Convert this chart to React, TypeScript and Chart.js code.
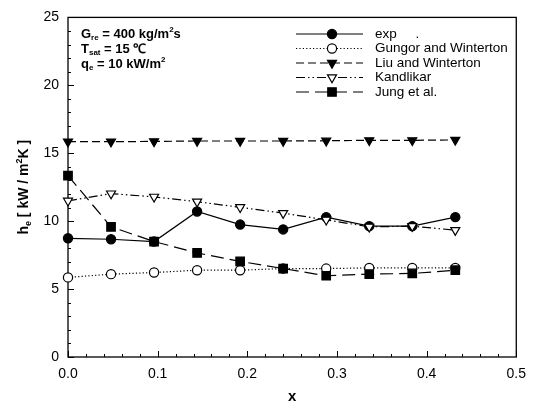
import React, { useEffect, useRef } from 'react';
import { Chart, registerables } from 'chart.js';
import { drawPoint } from 'chart.js/helpers';

Chart.register(...registerables);

const xValues = [0, 0.048, 0.096, 0.144, 0.192, 0.24, 0.288, 0.336, 0.384, 0.432];
const expValues = [8.74, 8.67, 8.5, 10.71, 9.75, 9.39, 10.3, 9.63, 9.63, 10.3];
const gungorValues = [5.86, 6.1, 6.22, 6.39, 6.39, 6.51, 6.51, 6.56, 6.56, 6.56];
const liuValues = [15.85, 15.85, 15.87, 15.9, 15.9, 15.9, 15.92, 15.95, 15.95, 15.98];
const kandlikarValues = [11.5, 12.03, 11.79, 11.43, 11.02, 10.59, 10.1, 9.58, 9.63, 9.34];
const jungValues = [13.35, 9.58, 8.5, 7.66, 7.04, 6.51, 5.98, 6.1, 6.15, 6.39];
const seriesLabels = ['exp     .', 'Gungor and Winterton', 'Liu and Winterton', 'Kandlikar', 'Jung et al.'];
const xTickValues = [0, 0.1, 0.2, 0.3, 0.4, 0.5];
const yTickValues = [0, 5, 10, 15, 20, 25];

const FONT = '"Liberation Sans", Arial, Helvetica, sans-serif';

const styles = [
  { dash: [], pointStyle: 'circle', rotation: 0, radius: 4.6, fill: '#000' },
  { dash: [1.2, 2.2], pointStyle: 'circle', rotation: 0, radius: 4.6, fill: '#fff' },
  { dash: [8, 4], pointStyle: 'triangle', rotation: 180, radius: 5.2, fill: '#000' },
  { dash: [9, 3, 1.5, 3, 1.5, 3], pointStyle: 'triangle', rotation: 180, radius: 5.2, fill: '#fff' },
  { dash: [13, 6], pointStyle: 'rect', rotation: 0, radius: 6, fill: '#000' },
];

const seriesValues = [expValues, gungorValues, liuValues, kandlikarValues, jungValues];

type Part = { t: string; sub?: boolean; sup?: boolean };

function drawRich(ctx: CanvasRenderingContext2D, parts: Part[], x: number, y: number, size: number, align: 'left' | 'center') {
  const main = `bold ${size}px ${FONT}`;
  const small = `bold ${Math.round(size * 0.65)}px ${FONT}`;
  let total = 0;
  for (const p of parts) {
    ctx.font = p.sub || p.sup ? small : main;
    total += ctx.measureText(p.t).width;
  }
  let cx = align === 'center' ? x - total / 2 : x;
  ctx.textBaseline = 'middle';
  ctx.textAlign = 'left';
  for (const p of parts) {
    ctx.font = p.sub || p.sup ? small : main;
    const dy = p.sub ? size * 0.3 : p.sup ? -size * 0.35 : 0;
    ctx.fillText(p.t, cx, y + dy);
    cx += ctx.measureText(p.t).width;
  }
}

const decor = {
  id: 'decor',
  beforeDatasetsDraw(chart: any) {
    const { ctx, chartArea: a, scales } = chart;
    const xs = scales.x;
    const ys = scales.y;
    ctx.save();
    ctx.strokeStyle = '#000';
    ctx.lineWidth = 1.3;
    ctx.setLineDash([]);
    ctx.strokeRect(a.left, a.top, a.right - a.left, a.bottom - a.top);
    ctx.lineWidth = 1;
    ctx.beginPath();
    for (let v = 0; v <= 25; v++) {
      const py = Math.round(ys.getPixelForValue(v)) + 0.5;
      const len = v % 5 === 0 ? 6 : 3;
      ctx.moveTo(a.left, py);
      ctx.lineTo(a.left + len, py);
    }
    for (let i = 0; i <= 25; i++) {
      const px = Math.round(xs.getPixelForValue(i * 0.02)) + 0.5;
      const len = i % 5 === 0 ? 6 : 3;
      ctx.moveTo(px, a.bottom);
      ctx.lineTo(px, a.bottom - len);
    }
    ctx.stroke();
    ctx.restore();
  },
  afterDraw(chart: any) {
    const { ctx, chartArea: a } = chart;
    ctx.save();
    ctx.fillStyle = '#000';
    // annotation
    const ax = 81;
    drawRich(ctx, [{ t: 'G' }, { t: 're', sub: true }, { t: ' = 400 kg/m' }, { t: '2', sup: true }, { t: 's' }], ax, 34, 13, 'left');
    drawRich(ctx, [{ t: 'T' }, { t: 'sat', sub: true }, { t: ' = 15 ℃' }], ax, 49, 13, 'left');
    drawRich(ctx, [{ t: 'q' }, { t: 'e', sub: true }, { t: ' = 10 kW/m' }, { t: '2', sup: true }], ax, 64, 13, 'left');

    // y axis title
    ctx.save();
    ctx.translate(24, (a.top + a.bottom) / 2);
    ctx.rotate(-Math.PI / 2);
    drawRich(ctx, [{ t: 'h' }, { t: 'e', sub: true }, { t: ' [ kW / m' }, { t: '2', sup: true }, { t: 'K ]' }], 0, 0, 14, 'center');
    ctx.restore();

    // legend
    const rows = [34, 48.5, 63, 77.5, 92];
    const x0 = 296;
    const x1 = 363;
    const mx = 332;
    const tx = 375;
    for (let i = 0; i < styles.length; i++) {
      const s = styles[i];
      const y = rows[i];
      ctx.strokeStyle = '#000';
      ctx.lineWidth = 1.2;
      ctx.setLineDash(s.dash);
      ctx.beginPath();
      ctx.moveTo(x0, y);
      ctx.lineTo(x1, y);
      ctx.stroke();
      ctx.setLineDash([]);
      ctx.fillStyle = s.fill;
      ctx.strokeStyle = '#000';
      ctx.lineWidth = 1.2;
      drawPoint(ctx, { pointStyle: s.pointStyle, rotation: s.rotation, radius: s.radius, borderWidth: 1.2 } as any, mx, y);
      ctx.fillStyle = '#000';
      ctx.font = `13.5px ${FONT}`;
      ctx.textAlign = 'left';
      ctx.textBaseline = 'middle';
      ctx.fillText(seriesLabels[i], tx, y);
    }
    ctx.restore();
  },
};

export default function App() {
  const ref = useRef<HTMLCanvasElement | null>(null);
  useEffect(() => {
    document.body.style.margin = '0';
    const canvas = ref.current;
    if (!canvas) return;
    const datasets = seriesValues.map((vals, i) => ({
      label: seriesLabels[i],
      data: xValues.map((x, j) => ({ x, y: vals[j] })),
      borderColor: '#000',
      borderWidth: 1.2,
      borderDash: styles[i].dash,
      backgroundColor: styles[i].fill,
      pointStyle: styles[i].pointStyle as any,
      pointRotation: styles[i].rotation,
      pointRadius: styles[i].radius,
      pointBackgroundColor: styles[i].fill,
      pointBorderColor: '#000',
      pointBorderWidth: 1.2,
      showLine: true,
      fill: false,
      tension: 0,
      clip: false as any,
    }));
    const ordered = [datasets[4], datasets[3], datasets[2], datasets[1], datasets[0]];
    const chart = new Chart(canvas, {
      type: 'scatter',
      data: { datasets: ordered as any },
      options: {
        responsive: false,
        animation: false,
        devicePixelRatio: 1,
        layout: { padding: { top: 10, right: 18, left: 0, bottom: 0 } },
        plugins: { legend: { display: false }, tooltip: { enabled: false } },
        scales: {
          x: {
            type: 'linear',
            min: 0,
            max: 0.5,
            afterFit: (s: any) => { s.height = 59; },
            afterBuildTicks: (s: any) => { s.ticks = xTickValues.map((v) => ({ value: v })); },
            grid: { display: false, drawTicks: false },
            border: { display: false },
            ticks: {
              padding: 9,
              color: '#000',
              font: { family: FONT, size: 14 },
              callback: (v: any) => Number(v).toFixed(1),
              maxRotation: 0,
            },
            title: {
              display: true,
              text: 'x',
              color: '#000',
              font: { family: FONT, size: 15, weight: 'bold' },
              padding: { top: 0, bottom: 10 },
            },
          },
          y: {
            type: 'linear',
            min: 0,
            max: 25,
            afterFit: (s: any) => { s.width = 68; },
            afterBuildTicks: (s: any) => { s.ticks = yTickValues.map((v) => ({ value: v })); },
            grid: { display: false, drawTicks: false },
            border: { display: false },
            ticks: {
              padding: 9,
              color: '#000',
              font: { family: FONT, size: 14 },
              callback: (v: any) => String(v),
            },
          },
        },
      },
      plugins: [decor],
    });
    return () => chart.destroy();
  }, []);
  return (
    <div style={{ width: 535, height: 416, background: '#fff' }}>
      <canvas ref={ref} width={535} height={416} style={{ display: 'block' }} />
    </div>
  );
}
